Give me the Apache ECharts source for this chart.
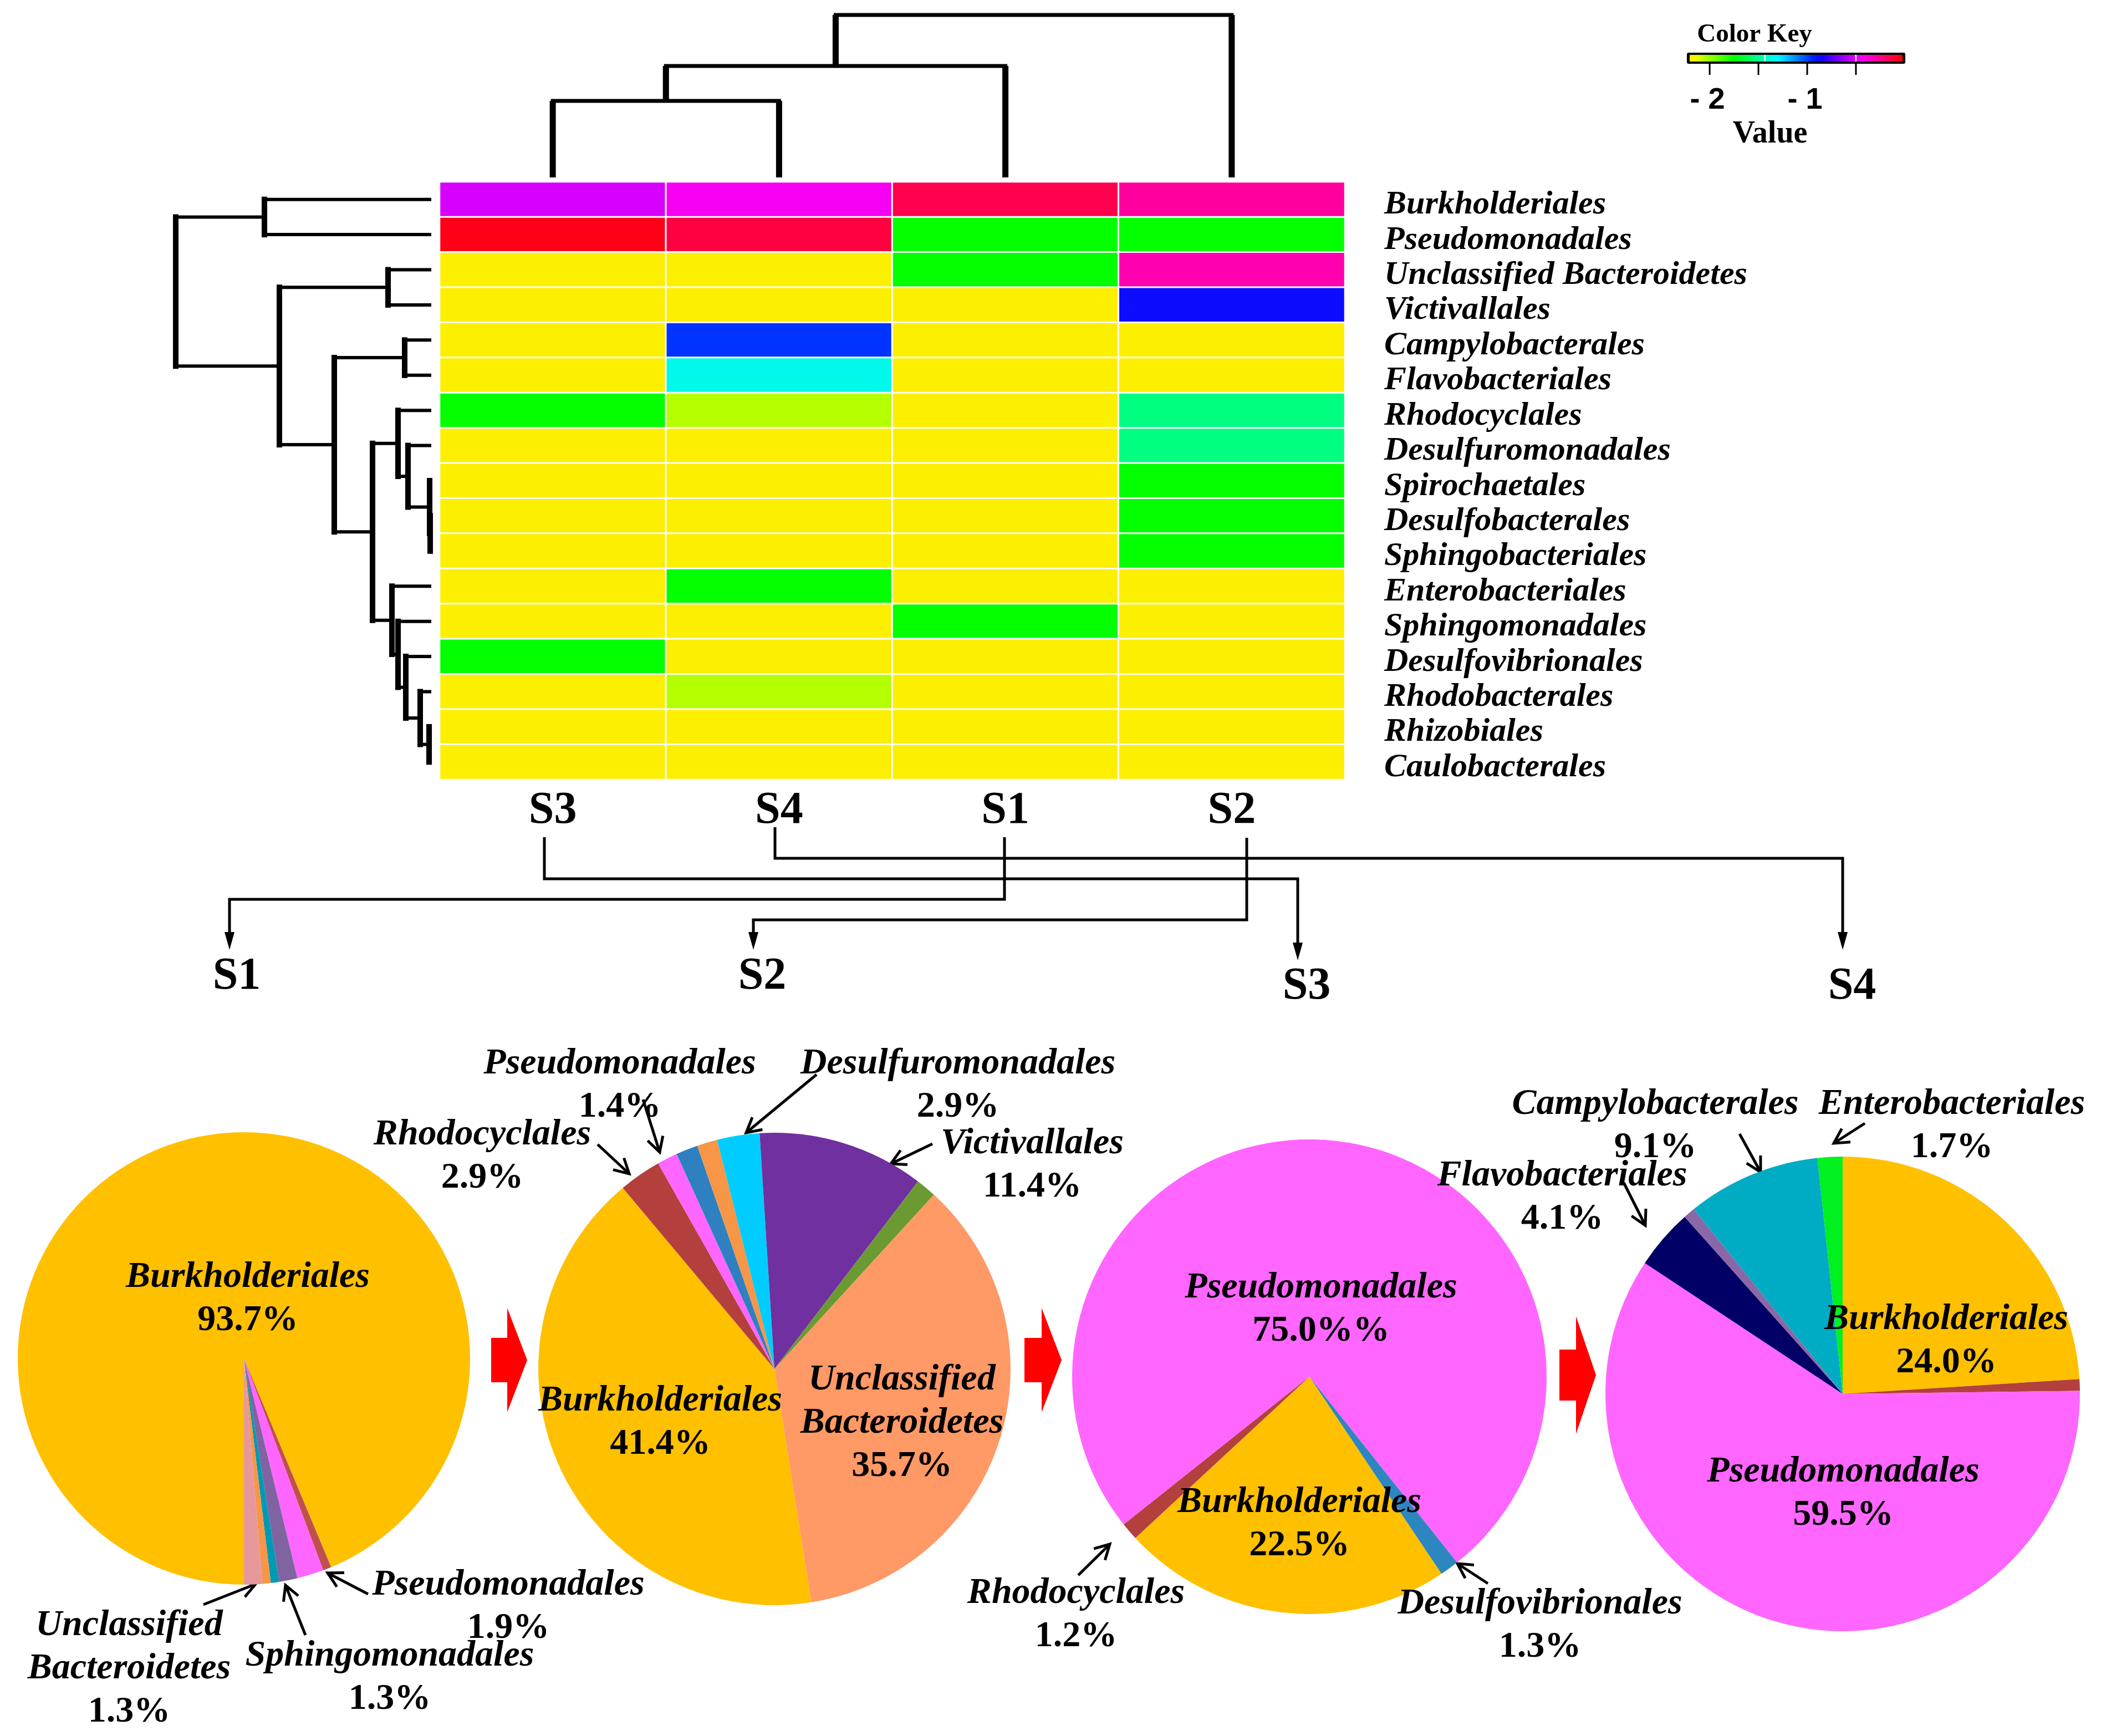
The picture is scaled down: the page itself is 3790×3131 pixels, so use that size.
<!DOCTYPE html>
<html><head><meta charset="utf-8">
<script src="https://cdn.jsdelivr.net/npm/echarts@6/dist/echarts.min.js"></script>
<style>html,body{margin:0;padding:0;background:#fff}#c{width:3790px;height:3131px}</style>
</head><body><div id="c"></div>
<script>
// ================= DATA =================
const samples = ['S3', 'S4', 'S1', 'S2']; // heatmap column order (clustered)
const orders = ['Burkholderiales', 'Pseudomonadales', 'Unclassified Bacteroidetes', 'Victivallales',
  'Campylobacterales', 'Flavobacteriales', 'Rhodocyclales', 'Desulfuromonadales', 'Spirochaetales',
  'Desulfobacterales', 'Sphingobacteriales', 'Enterobacteriales', 'Sphingomonadales',
  'Desulfovibrionales', 'Rhodobacterales', 'Rhizobiales', 'Caulobacterales'];
// heatmap values, one array per sample, in row order
const valuesS3 = [-0.52, -0.06, -2.20, -2.20, -2.20, -2.20, -1.75, -2.20, -2.20, -2.20, -2.20, -2.20, -2.20, -1.75, -2.20, -2.20, -2.20];
const valuesS4 = [-0.45, -0.13, -2.20, -2.20, -0.97, -1.34, -2.05, -2.20, -2.20, -2.20, -2.20, -1.75, -2.20, -2.20, -2.05, -2.20, -2.20];
const valuesS1 = [-0.15, -1.75, -1.75, -2.20, -2.20, -2.20, -2.20, -2.20, -2.20, -2.20, -2.20, -2.20, -1.75, -2.20, -2.20, -2.20, -2.20];
const valuesS2 = [-0.29, -1.75, -0.32, -0.88, -2.20, -2.20, -1.53, -1.53, -1.75, -1.75, -1.75, -2.20, -2.20, -2.20, -2.20, -2.20, -2.20];
const keyMin = -2.205, keyMax = -0.022;
const keyTicks = [-2, -1.5, -1, -0.5];
const keyTickLabels = ['- 2', '', '- 1', ''];
// row dendrogram (hclust style: negative = leaf row index+1, positive = earlier merge)
const rowMerge = [[-10, -11], [-9, 1], [-16, -17], [-8, 2], [-7, 4], [-15, 3], [-14, 6], [-13, 7], [-12, 8], [5, 9], [-5, -6], [11, 10], [-3, -4], [13, 12], [-1, -2], [15, 14]];
const rowMergeHeight = [0.02, 0.03, 0.04, 0.42, 0.60, 0.20, 0.46, 0.60, 0.71, 1.06, 0.48, 1.75, 0.78, 2.74, 3.01, 4.61];
// column dendrogram (leaves in samples order)
const colMerge = [[-1, -2], [1, -3], [2, -4]];
const colMergeHeight = [1.38, 2.01, 2.93];

// pie charts (slice order = clockwise drawing order)
const pieS1Names = ['Burkholderiales', 'Other A', 'Pseudomonadales', 'Sphingomonadales', 'Other B', 'Other C', 'Unclassified Bacteroidetes'];
const pieS1Values = [93.7, 0.6, 1.9, 1.3, 0.6, 0.6, 1.3];
const pieS2Names = ['Burkholderiales', 'Rhodocyclales', 'Pseudomonadales', 'Other A', 'Other B', 'Desulfuromonadales', 'Victivallales', 'Other C', 'Unclassified Bacteroidetes'];
const pieS2Values = [41.4, 2.9, 1.4, 1.5, 1.4, 2.9, 11.4, 1.4, 35.7];
const pieS3Names = ['Pseudomonadales', 'Desulfovibrionales', 'Burkholderiales', 'Rhodocyclales'];
const pieS3Values = [75.0, 1.3, 22.5, 1.2];
const pieS4Names = ['Burkholderiales', 'Other A', 'Pseudomonadales', 'Flavobacteriales', 'Other B', 'Campylobacterales', 'Enterobacteriales'];
const pieS4Values = [24.0, 0.8, 59.5, 4.1, 0.8, 9.1, 1.7];

// ================= STYLE / LAYOUT =================
const SERIF = 'Liberation Serif';
const pieS1Colors = ['#FFC000', '#C0504D', '#FF66FF', '#8064A2', '#0099B3', '#F79646', '#E6989A'];
const pieS2Colors = ['#FFC000', '#B3403D', '#FF66FF', '#2E80C0', '#F79646', '#00CCFF', '#7030A0', '#6B9A33', '#FF9966'];
const pieS3Colors = ['#FF66FF', '#2E86C1', '#FFC000', '#B3403D'];
const pieS4Colors = ['#FFC000', '#B3403D', '#FF66FF', '#000066', '#8A68A8', '#00ABC4', '#00F020'];

const HM = {left: 793, top: 328, width: 1633, height: 1078};

const pieLayouts = [
  {center: [440, 2450], r: 408, start: 270, labels: {
    'Burkholderiales': [447, 2343], 'Unclassified Bacteroidetes': [233, 3010],
    'Sphingomonadales': [703, 3026], 'Pseudomonadales': [917, 2898]}},
  {center: [1397, 2469], r: 426, start: 279, labels: {
    'Burkholderiales': [1191, 2566], 'Unclassified Bacteroidetes': [1627, 2567],
    'Pseudomonadales': [1118, 1958], 'Desulfuromonadales': [1728, 1958],
    'Victivallales': [1862, 2102], 'Rhodocyclales': [870, 2086]}},
  {center: [2362, 2483], r: 428, start: 218.5, labels: {
    'Pseudomonadales': [2383, 2362, '%%'], 'Burkholderiales': [2344, 2749],
    'Rhodocyclales': [1941, 2913], 'Desulfovibrionales': [2778, 2932]}},
  {center: [3324, 2514], r: 428, start: 90, labels: {
    'Burkholderiales': [3511, 2419], 'Pseudomonadales': [3325, 2694],
    'Campylobacterales': [2986, 2031], 'Enterobacteriales': [3521, 2031],
    'Flavobacteriales': [2818, 2160]}}
];
const pieArrows = [
  [367, 2894, 461, 2857], [551, 2949, 515, 2859], [664, 2875, 591, 2837],
  [1078, 2064, 1135, 2117], [1160, 1983, 1190, 2078], [1473, 1938, 1346, 2043], [1682, 2063, 1607, 2099],
  [1945, 2841, 2002, 2785], [2684, 2856, 2629, 2820],
  [2929, 2133, 2968, 2210], [3138, 2045, 3176, 2114], [3364, 2026, 3308, 2062]
];
const connectors = [
  [[982, 1510], [982, 1585], [2341, 1585], [2341, 1732]],
  [[1398, 1492], [1398, 1548], [3324, 1548], [3324, 1713]],
  [[1812, 1510], [1812, 1622], [414, 1622], [414, 1713]],
  [[2249, 1511], [2249, 1659], [1359, 1659], [1359, 1713]]
];
const pieTitles = [['S1', 427, 1762], ['S2', 1375, 1762], ['S3', 2357, 1780], ['S4', 3341, 1780]];
const blockArrows = [
  {x0: 886, x1: 915, x2: 951, cy: 2453, s: 40, h: 94},
  {x0: 1848, x1: 1879, x2: 1915, cy: 2453, s: 40, h: 94},
  {x0: 2813, x1: 2843, x2: 2879, cy: 2480, s: 46, h: 106}
];
const KEY = {x: 3048, y: 99, w: 384, h: 12};

// ================= HELPERS =================
function hsvHex(h) {
  h = ((h % 360) + 360) % 360;
  const f = (n) => { const k = (n + h / 60) % 6; return Math.round(255 * (1 - Math.max(0, Math.min(k, 4 - k, 1)))); };
  return '#' + [f(5), f(3), f(1)].map(v => v.toString(16).padStart(2, '0')).join('');
}
const RAMP_N = 25;
const rampColors = Array.from({length: RAMP_N}, (_, i) => hsvHex(56 + (360 - 56) * i / (RAMP_N - 1)));

function dendroSegments(merge, heights, horiz, joinW, branchW) {
  const pos = [], hgt = [], segs = [];
  const node = (id) => id < 0 ? {p: -id - 1, h: 0} : {p: pos[id - 1], h: hgt[id - 1]};
  const pt = (h, p) => horiz ? [h, p] : [p, h];
  merge.forEach(([a, b], i) => {
    const A = node(a), B = node(b), H = heights[i];
    pos[i] = (A.p + B.p) / 2; hgt[i] = H;
    segs.push([...pt(A.h, A.p), ...pt(H, A.p), branchW, 0]);
    segs.push([...pt(B.h, B.p), ...pt(H, B.p), branchW, 0]);
    segs.push([...pt(H, A.p), ...pt(H, B.p), joinW, 1]);
  });
  return segs;
}
const segRender = (params, api) => {
  const p1 = api.coord([api.value(0), api.value(1)]);
  const p2 = api.coord([api.value(2), api.value(3)]);
  return {type: 'line', shape: {x1: p1[0], y1: p1[1], x2: p2[0], y2: p2[1]},
    style: {stroke: '#000', lineWidth: api.value(4), lineCap: api.value(5) ? 'square' : 'butt'}};
};

// ================= BUILD =================
const sampleValues = {S1: valuesS1, S2: valuesS2, S3: valuesS3, S4: valuesS4};
const heatData = [];
samples.forEach((s, ci) => orders.forEach((o, ri) => heatData.push([ci, ri, sampleValues[s][ri]])));

const rowRoot = rowMergeHeight[rowMergeHeight.length - 1];
const colRoot = colMergeHeight[colMergeHeight.length - 1];

const rich = {
  n: {fontFamily: SERIF, fontStyle: 'italic', fontWeight: 'bold', fontSize: 66, lineHeight: 78, color: '#000'},
  v: {fontFamily: SERIF, fontWeight: 'bold', fontSize: 66, lineHeight: 78, color: '#000'}
};
const pieData = [
  [pieS1Names, pieS1Values, pieS1Colors], [pieS2Names, pieS2Values, pieS2Colors],
  [pieS3Names, pieS3Values, pieS3Colors], [pieS4Names, pieS4Values, pieS4Colors]
];
const pieSeries = pieData.map(([names, values, colors], k) => {
  const L = pieLayouts[k];
  return {
    type: 'pie', center: L.center, radius: L.r, startAngle: L.start, clockwise: true,
    avoidLabelOverlap: false, silent: true, animation: false, emphasis: {disabled: true},
    label: {show: true, position: 'inside', rotate: 0,
      formatter: (p) => {
        const lp = L.labels[p.name];
        const suf = (lp && lp[2]) || '%';
        return p.name.split(' ').map(w => '{n|' + w + '}').join('\n') + '\n{v|' + p.value.toFixed(1) + suf + '}';
      }, rich},
    labelLine: {show: false},
    labelLayout: (p) => {
      const lp = L.labels[names[p.dataIndex]];
      if (!lp) return {};
      return {x: lp[0], y: lp[1], align: 'center', verticalAlign: 'middle'};
    },
    data: names.map((n, i) => ({name: n, value: values[i], itemStyle: {color: colors[i]},
      label: {show: !!L.labels[n]}}))
  };
});

// graphics
const graphics = [];
// colour key
graphics.push({type: 'rect', shape: {x: KEY.x - 5, y: KEY.y - 4, width: KEY.w + 10, height: KEY.h + 8, r: 3},
  style: {fill: '#000'}});
graphics.push({type: 'rect', shape: {x: KEY.x, y: KEY.y, width: KEY.w, height: KEY.h},
  style: {fill: new echarts.graphic.LinearGradient(0, 0, 1, 0,
    rampColors.map((c, i) => ({offset: i / (RAMP_N - 1), color: c})))}});
[0.353, 0.78].forEach(f => graphics.push({type: 'rect',
  shape: {x: KEY.x + f * KEY.w - 1, y: KEY.y, width: 2.5, height: KEY.h}, style: {fill: '#fff'}}));
keyTicks.forEach((t, i) => {
  const x = KEY.x + (t - keyMin) / (keyMax - keyMin) * KEY.w;
  graphics.push({type: 'line', shape: {x1: x, y1: KEY.y + KEY.h + 4, x2: x, y2: 135}, style: {stroke: '#000', lineWidth: 3}});
  if (keyTickLabels[i]) graphics.push({type: 'text', style: {text: keyTickLabels[i], x: x - 4, y: 181,
    font: 'bold 54px "Liberation Sans"', fill: '#000', align: 'center', verticalAlign: 'middle',
    textAlign: 'center', textVerticalAlign: 'middle'}});
});
graphics.push({type: 'text', style: {text: 'Color Key', x: 3165, y: 63, font: 'bold 47px "' + SERIF + '"',
  fill: '#000', align: 'center', verticalAlign: 'middle', textAlign: 'center', textVerticalAlign: 'middle'}});
graphics.push({type: 'text', style: {text: 'Value', x: 3193, y: 243, font: 'bold 56px "' + SERIF + '"',
  fill: '#000', align: 'center', verticalAlign: 'middle', textAlign: 'center', textVerticalAlign: 'middle'}});
// connectors from clustered columns to pies
connectors.forEach(pts => {
  const last = pts[pts.length - 1];
  const body = pts.slice(0, -1).concat([[last[0], last[1] - 24]]);
  graphics.push({type: 'polyline', shape: {points: body}, style: {stroke: '#000', lineWidth: 5, fill: null, lineJoin: 'miter'}});
  graphics.push({type: 'polygon', shape: {points: [[last[0] - 9, last[1] - 32], [last[0] + 9, last[1] - 32], [last[0], last[1]]]},
    style: {fill: '#000'}});
});
pieTitles.forEach(([t, x, y]) => graphics.push({type: 'text', style: {text: t, x, y,
  font: 'bold 82px "' + SERIF + '"', fill: '#000', align: 'center', verticalAlign: 'middle',
  textAlign: 'center', textVerticalAlign: 'middle'}}));
// red block arrows
blockArrows.forEach(a => graphics.push({type: 'polygon', shape: {points: [
  [a.x0, a.cy - a.s], [a.x1, a.cy - a.s], [a.x1, a.cy - a.h], [a.x2, a.cy],
  [a.x1, a.cy + a.h], [a.x1, a.cy + a.s], [a.x0, a.cy + a.s]]}, style: {fill: '#FF0000'}}));
// label arrows
pieArrows.forEach(([x1, y1, x2, y2]) => {
  const ang = Math.atan2(y2 - y1, x2 - x1), L = 30, w = 0.5;
  graphics.push({type: 'line', shape: {x1, y1, x2, y2}, style: {stroke: '#000', lineWidth: 5}});
  graphics.push({type: 'polyline', shape: {points: [
    [x2 - L * Math.cos(ang - w), y2 - L * Math.sin(ang - w)], [x2, y2],
    [x2 - L * Math.cos(ang + w), y2 - L * Math.sin(ang + w)]]},
    style: {stroke: '#000', lineWidth: 5, fill: null, lineJoin: 'miter'}});
});

const option = {
  backgroundColor: '#fff',
  animation: false,
  grid: [
    {left: HM.left, top: HM.top, width: HM.width, height: HM.height},
    {left: HM.left, top: 27, width: HM.width, height: 320 - 27},
    {left: 317, top: HM.top, width: 778 - 317, height: HM.height}
  ],
  xAxis: [
    {type: 'category', gridIndex: 0, data: samples, position: 'bottom',
      axisLine: {show: false}, axisTick: {show: false}, splitLine: {show: false},
      axisLabel: {interval: 0, fontFamily: SERIF, fontWeight: 'bold', fontSize: 82, color: '#000', margin: 16}},
    {type: 'value', gridIndex: 1, min: -0.5, max: samples.length - 0.5, show: false},
    {type: 'value', gridIndex: 2, min: 0, max: rowRoot, inverse: true, show: false}
  ],
  yAxis: [
    {type: 'category', gridIndex: 0, data: orders, inverse: true, position: 'right',
      axisLine: {show: false}, axisTick: {show: false}, splitLine: {show: false},
      axisLabel: {interval: 0, fontFamily: SERIF, fontWeight: 'bold', fontStyle: 'italic', fontSize: 60, color: '#000',
        align: 'left', margin: 71, verticalAlign: 'top', lineHeight: 20}},
    {type: 'value', gridIndex: 1, min: 0, max: colRoot, show: false},
    {type: 'value', gridIndex: 2, min: -0.5, max: orders.length - 0.5, inverse: true, show: false}
  ],
  visualMap: {type: 'continuous', show: false, min: keyMin, max: keyMax, seriesIndex: 0,
    inRange: {color: rampColors}},
  series: [
    {type: 'heatmap', xAxisIndex: 0, yAxisIndex: 0, data: heatData, silent: true,
      itemStyle: {borderColor: '#fff', borderWidth: 3}, emphasis: {disabled: true}},
    {type: 'custom', xAxisIndex: 1, yAxisIndex: 1, clip: false, silent: true, renderItem: segRender,
      data: dendroSegments(colMerge, colMergeHeight, false, 7, 11)},
    {type: 'custom', xAxisIndex: 2, yAxisIndex: 2, clip: false, silent: true, renderItem: segRender,
      data: dendroSegments(rowMerge, rowMergeHeight, true, 10, 6)},
    ...pieSeries
  ],
  graphic: {elements: graphics}
};
const chart = echarts.init(document.getElementById('c'));
chart.setOption(option);
</script></body></html>
